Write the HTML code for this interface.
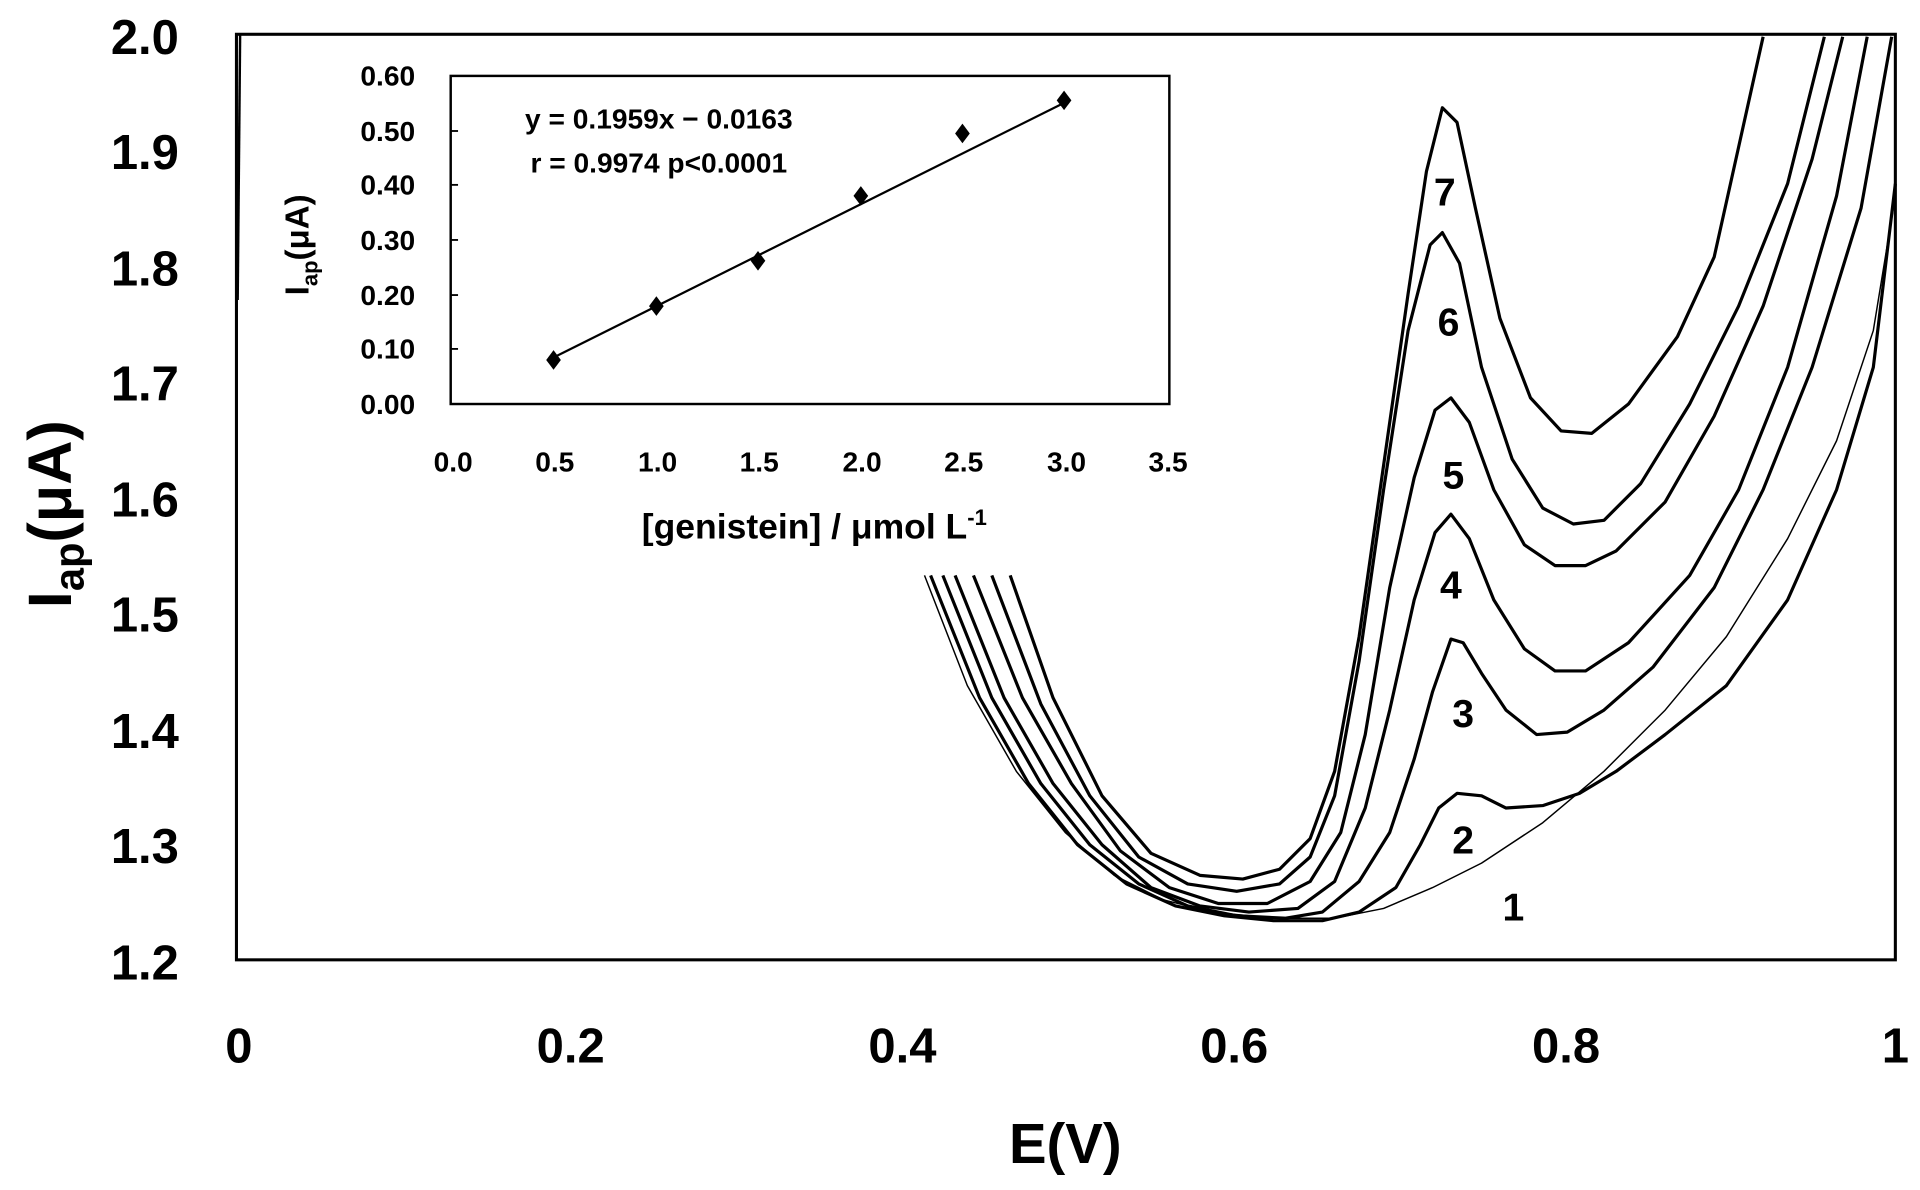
<!DOCTYPE html>
<html><head><style>
html,body{margin:0;padding:0;background:#fff;}
svg{display:block;}
text{font-family:"Liberation Sans Narrow","Liberation Sans",sans-serif;font-weight:bold;fill:#000;}
</style></head><body>
<svg width="1920" height="1190" viewBox="0 0 1568 972" xmlns="http://www.w3.org/2000/svg">
<rect x="0" y="0" width="1568" height="972" fill="#fff"/>
<!-- main box -->
<rect x="193" y="28" width="1355" height="756" fill="none" stroke="#000" stroke-width="2.5"/>
<line x1="196" y1="28" x2="194" y2="245" stroke="#000" stroke-width="2"/>
<!-- y ticks labels -->
<g font-size="40" text-anchor="end">
<text x="146" y="44">2.0</text><text x="146" y="138">1.9</text><text x="146" y="233">1.8</text>
<text x="146" y="327">1.7</text><text x="146" y="422">1.6</text><text x="146" y="516">1.5</text>
<text x="146" y="611">1.4</text><text x="146" y="705">1.3</text><text x="146" y="800">1.2</text>
</g>
<g font-size="40" text-anchor="middle">
<text x="195" y="868">0</text><text x="466" y="868">0.2</text><text x="737" y="868">0.4</text>
<text x="1008" y="868">0.6</text><text x="1279" y="868">0.8</text><text x="1548" y="868">1</text>
<text x="870" y="950" font-size="46">E(V)</text>
</g>
<text transform="translate(58,420) rotate(-90)" font-size="50" text-anchor="middle">I<tspan font-size="34" dy="10">ap</tspan><tspan dy="-10">(μA)</tspan></text>
<!-- curves -->
<g fill="none" stroke="#000" stroke-width="2.6" stroke-linejoin="round">
<polyline stroke-width="1.2" points="755,470 790,560 830,630 870,680 910,715 950,735 990,745 1040,750 1090,750 1130,742 1170,725 1210,705 1260,672 1310,630 1360,580 1410,520 1460,440 1500,360 1530,270 1548,160"/>
<polyline points="760,470 800,570 840,640 880,690 920,722 960,740 1000,748 1040,752 1080,752 1110,745 1140,725 1160,690 1175,660 1190,648 1210,650 1230,660 1260,658 1290,648 1320,630 1360,600 1410,560 1460,490 1500,400 1530,300 1548,150"/>
<polyline points="770,470 810,570 850,640 890,690 930,722 970,740 1010,748 1050,750 1080,745 1110,720 1135,680 1155,620 1170,565 1185,522 1195,525 1210,550 1230,580 1255,600 1280,598 1310,580 1350,545 1400,480 1440,400 1480,300 1520,170 1545,30"/>
<polyline points="780,470 820,570 860,640 900,690 940,725 980,740 1020,745 1060,742 1090,720 1115,660 1135,580 1155,490 1172,435 1185,420 1200,440 1220,490 1245,530 1270,548 1295,548 1330,525 1380,470 1420,400 1460,300 1500,160 1525,30"/>
<polyline points="795,470 835,570 875,640 915,695 955,725 995,738 1035,738 1070,720 1095,680 1115,600 1135,480 1155,390 1172,335 1185,325 1200,345 1220,400 1245,445 1270,462 1295,462 1320,450 1360,410 1400,340 1440,250 1480,130 1505,30"/>
<polyline points="810,470 850,575 890,650 930,700 970,722 1010,728 1045,722 1070,700 1090,650 1110,540 1130,400 1150,270 1168,200 1178,190 1192,215 1210,300 1235,375 1260,415 1285,428 1310,425 1340,395 1380,330 1420,250 1460,150 1490,30"/>
<polyline points="825,470 860,570 900,650 940,697 980,715 1015,718 1045,710 1070,685 1090,630 1110,520 1130,380 1150,240 1165,140 1178,88 1190,100 1205,170 1225,260 1250,325 1275,352 1300,354 1330,330 1370,275 1400,210 1420,120 1440,30"/>
</g>
<g font-size="32" text-anchor="middle">
<text x="1180" y="168">7</text><text x="1183" y="274">6</text><text x="1187" y="399">5</text>
<text x="1185" y="489">4</text><text x="1195" y="594">3</text><text x="1195" y="697">2</text><text x="1236" y="752">1</text>
</g>
<!-- inset -->
<rect x="368" y="62" width="587" height="268" fill="#fff" stroke="#000" stroke-width="2"/>
<g font-size="23" text-anchor="end">
<text x="339" y="70">0.60</text><text x="339" y="115">0.50</text><text x="339" y="159">0.40</text>
<text x="339" y="204">0.30</text><text x="339" y="249">0.20</text><text x="339" y="293">0.10</text><text x="339" y="338">0.00</text>
</g>
<g stroke="#000" stroke-width="1.5">
<line x1="368" y1="107" x2="374" y2="107"/><line x1="368" y1="151" x2="374" y2="151"/><line x1="368" y1="196" x2="374" y2="196"/>
<line x1="368" y1="241" x2="374" y2="241"/><line x1="368" y1="285" x2="374" y2="285"/>
</g>
<g font-size="23" text-anchor="middle">
<text x="370" y="385">0.0</text><text x="453" y="385">0.5</text><text x="537" y="385">1.0</text><text x="620" y="385">1.5</text>
<text x="704" y="385">2.0</text><text x="787" y="385">2.5</text><text x="871" y="385">3.0</text><text x="954" y="385">3.5</text>
<text x="665" y="440" font-size="29">[genistein] / μmol L<tspan font-size="18" dy="-11">-1</tspan></text>
</g>
<text transform="translate(252,200) rotate(-90)" font-size="27" text-anchor="middle">I<tspan font-size="18" dy="7">ap</tspan><tspan dy="-7">(μA)</tspan></text>
<text x="538" y="105" font-size="23" text-anchor="middle">y = 0.1959x − 0.0163</text>
<text x="538" y="141" font-size="23" text-anchor="middle">r = 0.9974 p&lt;0.0001</text>
<line x1="452" y1="292" x2="869" y2="84" stroke="#000" stroke-width="1.8"/>
<g fill="#000">
<path d="M452,286 l6,8 l-6,8 l-6,-8z"/>
<path d="M536,242 l6,8 l-6,8 l-6,-8z"/>
<path d="M619,205 l6,8 l-6,8 l-6,-8z"/>
<path d="M703,152 l6,8 l-6,8 l-6,-8z"/>
<path d="M786,101 l6,8 l-6,8 l-6,-8z"/>
<path d="M869,74 l6,8 l-6,8 l-6,-8z"/>
</g>
</svg>
</body></html>
